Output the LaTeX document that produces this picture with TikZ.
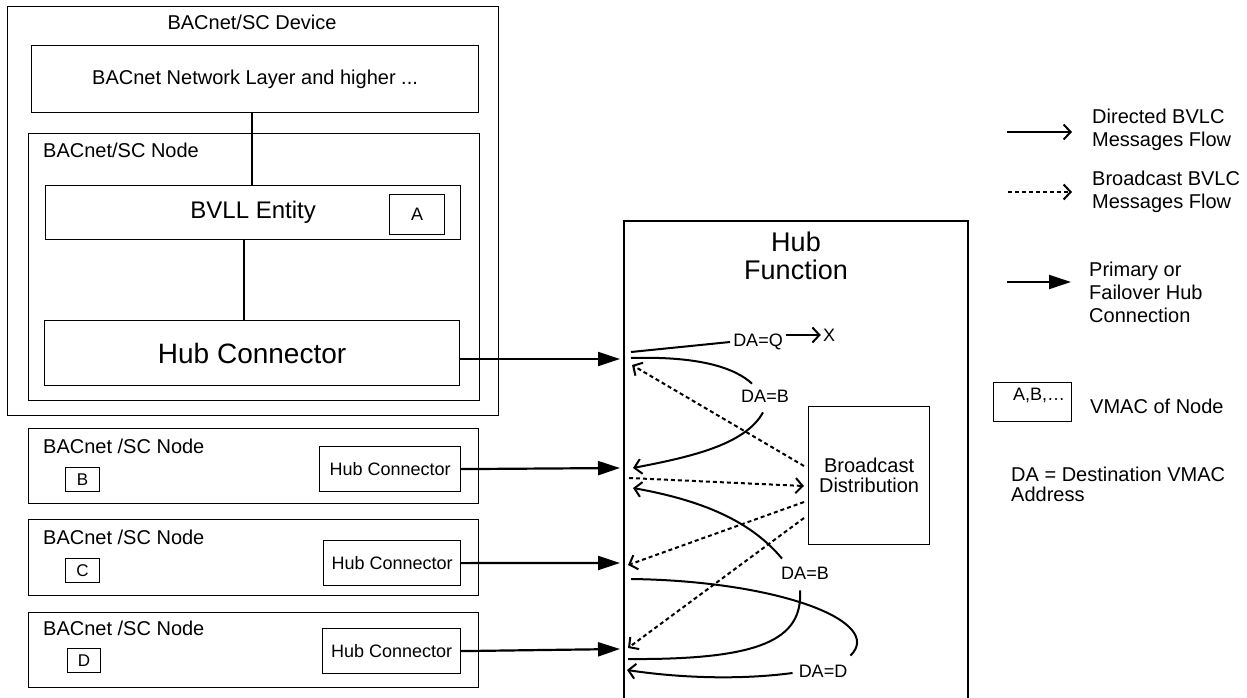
\documentclass[tikz,border=0pt]{standalone}
\usepackage{fontspec}
\setmainfont{Liberation Sans}
\usetikzlibrary{arrows.meta,calc}
\newcommand\fsz[2]{\fontsize{#1}{#2}\selectfont}
\begin{document}
\begin{tikzpicture}[x=1pt,y=-1pt,
  box/.style={draw, line width=1.2pt, inner sep=0pt, anchor=north west},
  txt/.style={inner sep=0pt, font=\fsz{20}{23}},
  lab/.style={inner sep=3pt, font=\fsz{18}{22}},
  leg/.style={inner sep=0pt, anchor=west, align=left, font=\fsz{20}{23}},
  link/.style={line width=2pt},
  hubarrow/.style={line width=2.2pt, -{Triangle[length=22pt,width=14pt]}},
  flow/.style={line width=2pt, -{Straight Barb[length=7pt,width=15pt]}},
  bcast/.style={line width=2pt, dash pattern=on 4pt off 3pt, -{Straight Barb[length=7pt,width=15pt]}},
]
\useasboundingbox (0,0) rectangle (1247,698);

% ---------- BACnet/SC Device (A) ----------
\node[box, minimum width=491, minimum height=409] (dev) at (7,6) {};
\node[txt] (devl) at (252,22) {BACnet/SC Device};
\node[box, minimum width=447, minimum height=67, font=\fsz{20}{23}] (net) at (31,45) {BACnet Network Layer and higher ...};
\node[box, minimum width=451, minimum height=267] (nA) at (28,133) {};
\node[txt, anchor=west] (nAl) at (43,150) {BACnet/SC Node};
\node[box, minimum width=415, minimum height=54, font=\fsz{24}{28}] (bvll) at (45,185) {BVLL Entity};
\node[box, minimum width=55, minimum height=40, font=\fsz{18}{22}] (vA) at (389,194) {A};
\node[box, minimum width=415, minimum height=65, font=\fsz{28}{32}] (hcA) at (44,320) {Hub Connector};
\coordinate (v1) at (252,0);
\coordinate (v2) at (244,0);
\draw[link] (net.south -| v1) -- (bvll.north -| v1);
\draw[link] (bvll.south -| v2) -- (hcA.north -| v2);

% ---------- Nodes B, C, D ----------
\node[box, minimum width=450, minimum height=75] (nB) at (28,428) {};
\node[txt, anchor=west] (nBl) at (43,446) {BACnet /SC Node};
\node[box, minimum width=34, minimum height=24, font=\fsz{17}{20}] (vB) at (65,467) {B};
\node[box, minimum width=141, minimum height=45, font=\fsz{18}{22}] (hcB) at (319,446) {Hub Connector};

\node[box, minimum width=450, minimum height=76] (nC) at (28,519) {};
\node[txt, anchor=west] (nCl) at (43,537) {BACnet /SC Node};
\node[box, minimum width=34, minimum height=24, font=\fsz{17}{20}] (vC) at (65,558) {C};
\node[box, minimum width=137, minimum height=45, font=\fsz{18}{22}] (hcC) at (323,540) {Hub Connector};

\node[box, minimum width=450, minimum height=75] (nD) at (28,612) {};
\node[txt, anchor=west] (nDl) at (43,628) {BACnet /SC Node};
\node[box, minimum width=33, minimum height=24, font=\fsz{17}{20}] (vD) at (67,648) {D};
\node[box, minimum width=138, minimum height=45, font=\fsz{18}{22}] (hcD) at (322,628) {Hub Connector};

% ---------- Hub Function ----------
\draw[line width=1.3pt] (624,698) |- (968,221) -- (968,698);
\node[inner sep=0pt, align=center, font=\fsz{27}{28}] (hub) at (796,256) {Hub\\Function};
\node[box, minimum width=121, minimum height=138, align=center, font=\fsz{20}{20}] (bd) at (808,406) {Broadcast\\Distribution};

\coordinate (hA) at (620,359);
\coordinate (hB) at (620,468);
\coordinate (hC) at (620,563);
\coordinate (hD) at (620,649);
\draw[hubarrow] (hcA.east |- hA) -- (hA);
\draw[hubarrow] (hcB.east) -- (hB);
\draw[hubarrow] (hcC.east) -- (hC);
\draw[hubarrow] (hcD.east) -- (hD);

% directed flows
\coordinate (aQ) at (631,352);
\coordinate (aB) at (631,358);
\node[lab] (lq) at (758,342) {DA=Q};
\node[inner sep=2pt, font=\fsz{18}{22}] (lx) at (829,335) {X};
\draw[link] (aQ) -- (lq.west);
\draw[flow] (lq.east |- lx) -- (lx.west);

\node[lab] (lb1) at (765,396) {DA=B};
\coordinate (inB1) at (633,468);
\draw[link] (aB) .. controls (700,356) and (735,368) .. ([shift={(-13,-3)}]lb1.north);
\draw[flow] ([shift={(-2,7)}]lb1.south) .. controls (745,445) and (690,457) .. (inB1);

\node[lab] (lb2) at (805,573) {DA=B};
\coordinate (outD) at (628,659);
\coordinate (inB2) at (633,488);
\draw[link] (outD) .. controls (760,660) and (803,640) .. ([shift={(-5,8)}]lb2.south);
\draw[flow] ([shift={(-23,-5)}]lb2.north) .. controls (750,520) and (700,500) .. (inB2);

\node[lab] (ld) at (823,671) {DA=D};
\coordinate (outC) at (631,579);
\coordinate (inD2) at (627,670);
\draw[link] (outC) .. controls (780,581) and (885,622) .. ([shift={(0,-6)}]ld.north east);
\draw[flow] ([shift={(-3,2)}]ld.west) .. controls (740,680) and (680,678) .. (inD2);

% broadcast flows
\coordinate (bdA) at (804,466);
\coordinate (bdB) at (804,486);
\coordinate (bdC) at (804,502);
\coordinate (bdD) at (804,518);
\coordinate (inA) at (632,365);
\coordinate (outB) at (629,478);
\coordinate (inC) at (628,565);
\coordinate (inD) at (628,648);
\draw[bcast] (bdA) -- (inA);
\draw[bcast] (outB) -- (bdB);
\draw[bcast] (bdC) -- (inC);
\draw[bcast] (bdD) -- (inD);

% ---------- Legend ----------
\coordinate (l1a) at (1007,132);
\coordinate (l1b) at (1072,132);
\draw[flow] (l1a) -- (l1b);
\node[leg] (l1t) at (1092,130) {Directed BVLC\\Messages Flow};

\coordinate (l2a) at (1008,192);
\coordinate (l2b) at (1072,192);
\draw[bcast] (l2a) -- (l2b);
\node[leg] (l2t) at (1092,192) {Broadcast BVLC\\Messages Flow};

\coordinate (l3a) at (1007,282);
\coordinate (l3b) at (1071,282);
\draw[hubarrow] (l3a) -- (l3b);
\node[leg] (l3t) at (1089,292) {Primary or\\Failover Hub\\Connection};

\node[box, minimum width=78, minimum height=39] (vm) at (993,382) {};
\node[inner sep=0pt, font=\fsz{18}{22}] (vmt) at (1039,395) {A,B,…};
\node[leg] (vml) at (1090,406) {VMAC of Node};

\node[leg, font=\fsz{20}{20}] (dal) at (1011,484) {DA = Destination VMAC\\Address};
\end{tikzpicture}
\end{document}
